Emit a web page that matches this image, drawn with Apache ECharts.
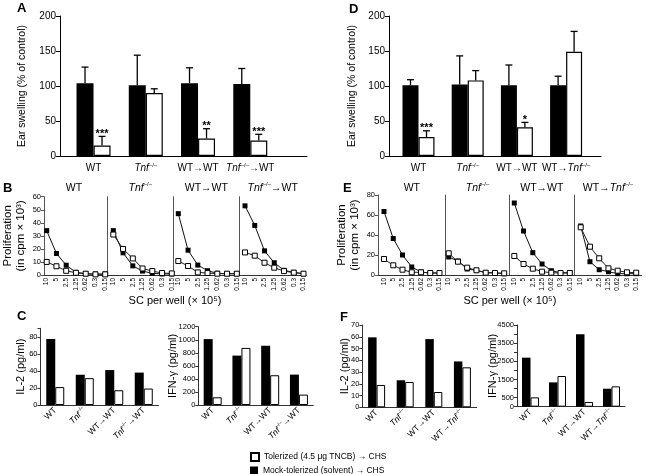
<!DOCTYPE html>
<html>
<head>
<meta charset="utf-8">
<script src="https://cdn.jsdelivr.net/npm/echarts@6/dist/echarts.min.js"></script>
<style>
  html, body { margin: 0; padding: 0; background: #fff; }
  #chart { width: 646px; height: 474px; }
</style>
</head>
<body>
<div id="chart"></div>
<script>
// ---- data ----
var groupsLeft = ['WT', 'Tnf-/-', 'WT→WT', 'Tnf-/-→WT'];
var groupsRight = ['WT', 'Tnf-/-', 'WT→WT', 'WT→Tnf-/-'];
var scLabels = ['10', '5', '2.5', '1.25', '0.62', '0.3', '0.15'];

// A / D: ear swelling (% of control), bar top and top of error bar
var swellMockA = [104, 101, 104, 103];
var swellMockErrA = [127, 144, 126, 125];
var swellTolA = [15, 90, 25, 22];
var swellTolErrA = [28, 96, 39, 31];
var sigA = ['***', '', '**', '***'];

var swellMockD = [101, 102, 101, 101];
var swellMockErrD = [109, 143, 130, 114];
var swellTolD = [27, 108, 41, 149];
var swellTolErrD = [36, 122, 48, 178];
var sigD = ['***', '', '*', ''];

// B / E: proliferation (cpm x 10^3), one row per recipient group
var prolifMockB = [
  [34, 16.5, 7.5, 2, 1, 0.7, 0.8],
  [34, 17, 7, 3, 1.3, 0.8, 0.8],
  [47, 19, 7.6, 3.3, 1.3, 1, 1],
  [53, 38, 18.5, 9.4, 3.6, 2, 1]
];
var prolifTolB = [
  [10, 6.7, 3.2, 1.7, 1, 0.5, 0.5],
  [31, 20, 12.7, 5, 3, 1.5, 1.2],
  [10.7, 6.9, 2, 1.5, 1, 1, 1],
  [17.3, 14.8, 9.4, 5.6, 3, 1.8, 1]
];
var prolifMockE = [
  [63.5, 36.5, 20, 8, 3, 2, 2],
  [18, 14, 6, 4.7, 2.3, 2.3, 1.3],
  [72, 44, 22.3, 11, 4.3, 2.3, 2.3],
  [49, 13.3, 5.3, 3.3, 1.3, 1.3, 1.3]
];
var prolifTolE = [
  [16, 9.7, 5.3, 2.7, 2.7, 2, 2],
  [21.7, 13.3, 7.3, 4.7, 2.3, 2, 1.7],
  [19, 11, 6.3, 3.3, 2.3, 2, 2],
  [47.7, 28.3, 16.7, 6.7, 4.3, 2.7, 2.3]
];

// C / F: cytokines (pg/ml)
var il2MockC = [77.5, 35.5, 41, 38];
var il2TolC = [21, 31.5, 17.3, 19.3];
var ifnMockC = [1010, 757, 908, 466];
var ifnTolC = [118, 875, 456, 159];
var il2MockF = [59.5, 23, 58, 39];
var il2TolF = [19, 21.5, 13, 34];
var ifnMockF = [2700, 1340, 3990, 990];
var ifnTolF = [514, 1690, 257, 1120];

var mockName = 'Mock-tolerized (solvent) → CHS';
var tolName = 'Tolerized (4.5 μg TNCB) → CHS';

// ---- helpers ----
var FONT = '"Liberation Sans", Arial, Helvetica, "DejaVu Sans", sans-serif';
var black = { color: '#000', width: 1 };
function plain(v) { return String(v); }

function richFor(size) {
  return {
    i: { fontStyle: 'italic', fontSize: size, fontFamily: FONT, color: '#000', lineHeight: size + 3 },
    s: { fontSize: Math.round(size * 0.6), fontFamily: FONT, color: '#000', lineHeight: Math.round(size * 0.6), verticalAlign: 'top' }
  };
}
function fmtName(s) {
  return s.split('Tnf-/-').join('{i|Tnf}{s|–/–}');
}

var grids = [], xAxes = [], yAxes = [], series = [], graphics = [];

function addPair(grid, x, y) {
  grids.push(grid);
  x.gridIndex = grids.length - 1;
  y.gridIndex = grids.length - 1;
  x.nameMoveOverlap = false;
  y.nameMoveOverlap = false;
  xAxes.push(x);
  yAxes.push(y);
  return grids.length - 1;
}

function errorSeries(gi, vals, errs, sig, dx) {
  return {
    type: 'custom', xAxisIndex: gi, yAxisIndex: gi, z: 5, silent: true,
    data: vals.map(function (v, i) { return [i, v, errs[i]]; }),
    renderItem: function (params, api) {
      var base = api.coord([api.value(0), api.value(1)]);
      var top = api.coord([api.value(0), api.value(2)]);
      var x = base[0] + dx;
      var kids = [
        { type: 'line', shape: { x1: x, y1: base[1], x2: x, y2: top[1] }, style: { stroke: '#000', lineWidth: 1.3 } },
        { type: 'line', shape: { x1: x - 3.5, y1: top[1], x2: x + 3.5, y2: top[1] }, style: { stroke: '#000', lineWidth: 1.3 } }
      ];
      var s = sig ? sig[params.dataIndex] : '';
      if (s) {
        kids.push({ type: 'text', style: { text: s, x: x, y: top[1] + 3, align: 'center', verticalAlign: 'bottom',
          fontSize: 11, fontWeight: 'bold', fontFamily: FONT, fill: '#000' } });
      }
      return { type: 'group', children: kids };
    }
  };
}

function swellingPanel(c) {
  addPair({ left: c.axisX, top: 16, width: c.axisW, height: 140 },
    { type: 'value', min: 0, max: 1, axisLine: { show: true, lineStyle: black }, axisTick: { show: false },
      axisLabel: { show: false }, splitLine: { show: false } },
    { type: 'value', min: 0, max: 200, interval: 50, axisLine: { show: true, lineStyle: black },
      axisTick: { show: true, length: 4, lineStyle: black },
      axisLabel: { fontSize: 10, color: '#000', fontFamily: FONT, margin: 4, formatter: plain }, splitLine: { show: false },
      name: 'Ear swelling (% of control)', nameLocation: 'middle', nameGap: c.nameGap,
      nameTextStyle: { fontSize: 10.5, color: '#000', fontFamily: FONT } });
  var gi = addPair({ left: c.dataX, top: 16, width: c.dataW, height: 140 },
    { type: 'category', data: c.groups, axisLine: { show: false }, axisTick: { show: false },
      axisLabel: { interval: 0, fontSize: 10, color: '#000', fontFamily: FONT, margin: 6, lineHeight: 13,
        formatter: fmtName, rich: richFor(10) } },
    { type: 'value', min: 0, max: 200, show: false });
  series.push({ type: 'bar', name: mockName, xAxisIndex: gi, yAxisIndex: gi, data: c.mock,
    barWidth: c.barW, barGap: '0%', itemStyle: { color: '#000' } });
  series.push({ type: 'bar', name: tolName, xAxisIndex: gi, yAxisIndex: gi, data: c.tol,
    barWidth: c.barW, barGap: '0%', itemStyle: { color: '#fff', borderColor: '#000', borderWidth: 1.2 } });
  series.push(errorSeries(gi, c.mock, c.mockErr, null, -c.barW / 2));
  series.push(errorSeries(gi, c.tol, c.tolErr, c.sig, c.barW / 2));
}

function prolifPanel(c) {
  var h = 275 - c.top;
  addPair({ left: c.divs[0], top: c.top, width: c.end - c.divs[0], height: h },
    { type: 'value', min: 0, max: 1, axisLine: { show: true, lineStyle: { color: '#333', width: 1 } },
      axisTick: { show: false }, axisLabel: { show: false }, splitLine: { show: false },
      name: 'SC per well (× 10⁵)', nameLocation: 'middle', nameGap: 20,
      nameTextStyle: { fontSize: 11, color: '#000', fontFamily: FONT } },
    { type: 'value', min: 0, max: c.max, interval: c.step, axisLine: { show: true, lineStyle: { color: '#555' } },
      axisTick: { show: true, length: 3, lineStyle: { color: '#555' } },
      axisLabel: { fontSize: 7.5, color: '#000', fontFamily: FONT, margin: 3, formatter: plain }, splitLine: { show: false },
      name: 'Proliferation\n(in cpm × 10³)', nameLocation: 'middle', nameGap: c.nameGap,
      nameTextStyle: { fontSize: 11.5, lineHeight: 13, color: '#000', fontFamily: FONT } });
  for (var k = 0; k < 4; k++) {
    var first = c.divs[k] + c.offs[k];
    var gi = addPair({ left: first, top: c.top, width: c.span, height: h },
      { type: 'category', boundaryGap: false, data: scLabels, axisLine: { show: false }, axisTick: { show: false },
        axisLabel: { interval: 0, rotate: 90, fontSize: 6.5, color: '#000', fontFamily: FONT, margin: 3 } },
      { type: 'value', min: 0, max: c.max, offset: c.offs[k],
        axisLine: { show: k > 0, lineStyle: { color: '#555' } }, axisTick: { show: false },
        axisLabel: { show: false }, splitLine: { show: false } });
    series.push({ type: 'line', name: c.id + k + ' mock', xAxisIndex: gi, yAxisIndex: gi, data: c.mock[k],
      symbol: 'rect', symbolSize: 5, showAllSymbol: true, lineStyle: { color: '#111', width: 1 },
      itemStyle: { color: '#000' } });
    series.push({ type: 'line', name: c.id + k + ' tol', xAxisIndex: gi, yAxisIndex: gi, data: c.tol[k],
      symbol: 'rect', symbolSize: 5, showAllSymbol: true, lineStyle: { color: '#222', width: 1 },
      itemStyle: { color: '#fff', borderColor: '#000', borderWidth: 1 } });
    var right = k < 3 ? c.divs[k + 1] : c.end;
    graphics.push({ type: 'text', x: (c.divs[k] + right) / 2, y: 188,
      style: { text: fmtName(c.groups[k]), rich: richFor(10.5), fontSize: 10.5, fontFamily: FONT, fill: '#000',
        align: 'center', verticalAlign: 'middle', textAlign: 'center', textVerticalAlign: 'middle' } });
  }
}

function cytokinePanel(c) {
  var gi = addPair({ left: c.left, top: c.top, width: c.width, height: c.bottom - c.top },
    { type: 'category', data: c.groups, axisLine: { show: true, lineStyle: { color: '#333' } }, axisTick: { show: false },
      axisLabel: { interval: 0, rotate: 45, fontSize: 8.5, color: '#000', fontFamily: FONT, margin: 4, lineHeight: 11,
        formatter: fmtName, rich: richFor(8.5) } },
    { type: 'value', min: 0, max: c.max, interval: c.step, axisLine: { show: true, lineStyle: { color: '#333' } },
      axisTick: { show: true, length: 3, lineStyle: { color: '#333' } },
      axisLabel: { fontSize: 7.5, color: '#000', fontFamily: FONT, margin: 3, formatter: c.fmt || plain }, splitLine: { show: false },
      name: c.name, nameLocation: 'middle', nameGap: c.nameGap,
      nameTextStyle: { fontSize: 11, color: '#000', fontFamily: FONT } });
  series.push({ type: 'bar', name: mockName, xAxisIndex: gi, yAxisIndex: gi, data: c.mock,
    barWidth: c.barW, barGap: '0%', itemStyle: { color: '#000' } });
  series.push({ type: 'bar', name: tolName, xAxisIndex: gi, yAxisIndex: gi, data: c.tol,
    barWidth: c.barW, barGap: '0%', itemStyle: { color: '#fff', borderColor: '#000', borderWidth: 1 } });
}

// ---- panels ----
swellingPanel({ axisX: 60, axisW: 247, dataX: 67.4, dataW: 209, nameGap: 32, barW: 17, groups: groupsLeft,
  mock: swellMockA, mockErr: swellMockErrA, tol: swellTolA, tolErr: swellTolErrA, sig: sigA });
swellingPanel({ axisX: 389, axisW: 212, dataX: 393.9, dataW: 196.8, nameGap: 31, barW: 16, groups: groupsRight,
  mock: swellMockD, mockErr: swellMockErrD, tol: swellTolD, tolErr: swellTolErrD, sig: sigD });

prolifPanel({ id: 'B', top: 196.7, max: 60, step: 10, nameGap: 17, groups: groupsLeft,
  divs: [40.7, 107.3, 173.3, 239.3], end: 306, offs: [6, 6, 5, 5.7], span: 58.5,
  mock: prolifMockB, tol: prolifTolB });
prolifPanel({ id: 'E', top: 195, max: 80, step: 20, nameGap: 17, groups: groupsRight,
  divs: [378, 445.7, 509.3, 574.3], end: 641.7, offs: [6, 3, 5, 6.4], span: 55.5,
  mock: prolifMockE, tol: prolifTolE });

cytokinePanel({ left: 40.5, top: 328.3, bottom: 405, width: 118, max: 90, step: 20, barW: 9,
  name: 'IL-2 (pg/ml)', nameGap: 14, groups: groupsLeft, mock: il2MockC, tol: il2TolC,
  fmt: function (v) { return v % 20 === 0 ? String(v) : ''; } });
cytokinePanel({ left: 198.3, top: 326.7, bottom: 405, width: 115, max: 1200, step: 200, barW: 9,
  name: 'IFN-γ (pg/ml)', nameGap: 20, groups: groupsLeft, mock: ifnMockC, tol: ifnTolC });
cytokinePanel({ left: 362.3, top: 325, bottom: 407.3, width: 114.4, max: 70, step: 10, barW: 8.5,
  name: 'IL-2 (pg/ml)', nameGap: 12, groups: groupsRight, mock: il2MockF, tol: il2TolF });
cytokinePanel({ left: 517, top: 325, bottom: 406.7, width: 108, max: 4500, step: 500, barW: 8.5,
  name: 'IFN-γ (pg/ml)', nameGap: 19, groups: groupsRight, mock: ifnMockF, tol: ifnTolF,
  fmt: function (v) { return (v === 0 || (v / 500) % 2 === 1) ? String(v) : ''; } });

// panel letters
[['A', 17, 2], ['D', 349, 3], ['B', 3, 182], ['E', 343, 182], ['C', 17, 310], ['F', 340, 311]].forEach(function (p) {
  graphics.push({ type: 'text', x: p[1], y: p[2],
    style: { text: p[0], fontSize: 13, fontWeight: 'bold', fontFamily: FONT, fill: '#000',
      align: 'left', verticalAlign: 'top', textAlign: 'left', textVerticalAlign: 'top' } });
});

var legendBase = {
  orient: 'vertical', left: 245, itemWidth: 8, itemHeight: 8, icon: 'rect', selectedMode: false,
  textStyle: { fontSize: 8.5, color: '#000', fontFamily: FONT }
};

var chart = echarts.init(document.getElementById('chart'), null, { renderer: 'canvas' });
chart.setOption({
  animation: false,
  backgroundColor: '#fff',
  textStyle: { fontFamily: FONT },
  grid: grids,
  xAxis: xAxes,
  yAxis: yAxes,
  legend: [
    Object.assign({}, legendBase, { top: 447, data: [tolName] }),
    Object.assign({}, legendBase, { top: 461, data: [mockName] })
  ],
  graphic: graphics,
  series: series
});
</script>
</body>
</html>
